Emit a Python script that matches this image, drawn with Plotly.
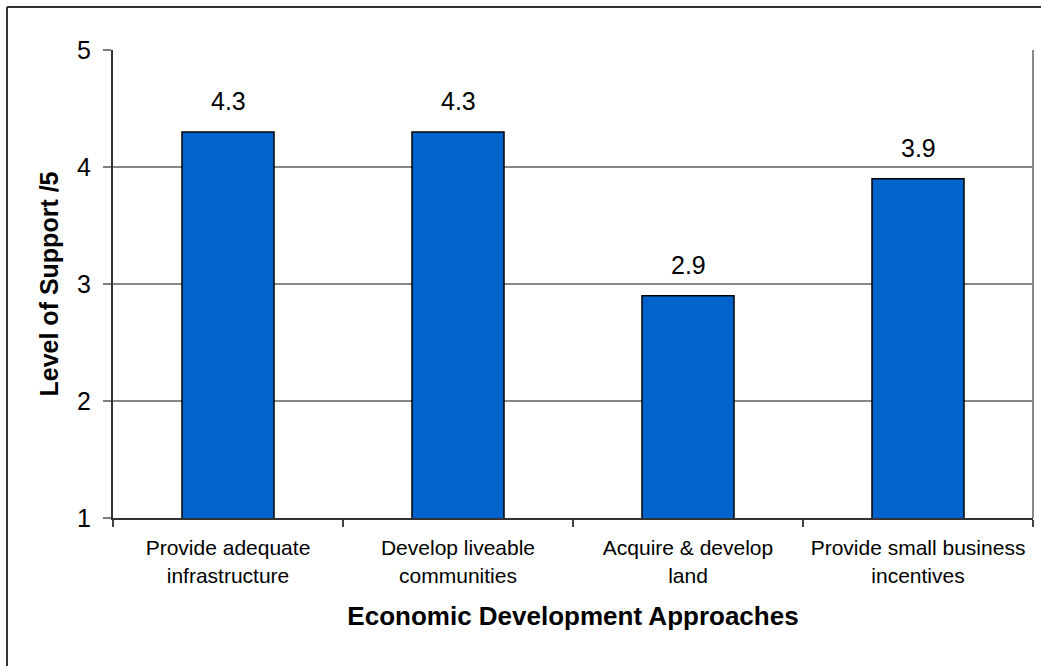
import plotly.graph_objects as go

categories = ["Provide adequate<br>infrastructure", "Develop liveable<br>communities",
              "Acquire & develop<br>land", "Provide small business<br>incentives"]
values = [4.3, 4.3, 2.9, 3.9]
value_labels = ["4.3", "4.3", "2.9", "3.9"]
y_ticks = [1, 2, 3, 4, 5]

W, H = 1041, 666
L, R, T, B = 113, 8, 50, 148
pw, ph = W - L - R, H - T - B
FONT = "Liberation Sans, Arial"

fig = go.Figure()
fig.add_trace(go.Bar(
    x=categories, y=values, width=0.4,
    marker=dict(color="#0064CC", line=dict(color="#000000", width=1.5)),
    hoverinfo="skip",
))

for c, v, t in zip(categories, values, value_labels):
    fig.add_annotation(x=c, y=v, text=t, showarrow=False, yanchor="bottom",
                       yshift=15, font=dict(family=FONT, size=25, color="#000"))

# outer chart border (left & top visible)
bx = (7 - L) / pw
by = (H - B - 7) / ph
fig.add_shape(type="line", xref="paper", yref="paper", x0=bx, x1=bx, y0=by, y1=-0.5,
              line=dict(color="#333333", width=2))
fig.add_shape(type="line", xref="paper", yref="paper", x0=bx, x1=1.5, y0=by, y1=by,
              line=dict(color="#333333", width=2))
# plot area right border
fig.add_shape(type="line", xref="paper", yref="paper", x0=1, x1=1, y0=0, y1=1,
              line=dict(color="#888888", width=2))

fig.update_layout(
    width=W, height=H,
    margin=dict(l=L, r=R, t=T, b=B, autoexpand=False),
    paper_bgcolor="white", plot_bgcolor="white",
    showlegend=False,
    bargap=0.6,
    font=dict(family=FONT, color="#000"),
)
fig.update_xaxes(
    type="category", tickson="boundaries", ticks="outside", ticklen=7,
    tickcolor="#404040", tickwidth=1.5,
    showline=True, linecolor="#333333", linewidth=2,
    tickfont=dict(size=21), ticklabelstandoff=10,
    title=dict(text="<b>Economic Development Approaches</b>", font=dict(size=26), standoff=21),
    showgrid=False,
)
fig.update_yaxes(
    range=[1, 5], tickvals=y_ticks, ticktext=[str(v) for v in y_ticks],
    ticks="outside", ticklen=8, tickcolor="#808080", tickwidth=1.5,
    showline=True, linecolor="#333333", linewidth=2,
    showgrid=True, gridcolor="#888888", gridwidth=1.5,
    zeroline=False,
    tickfont=dict(size=25), ticklabelstandoff=7,
    title=dict(text="<b>Level of Support /5</b>", font=dict(size=25), standoff=11),
)

fig.write_html("out.html", config={"displayModeBar": False},
               post_script="document.body.style.margin='0';")
